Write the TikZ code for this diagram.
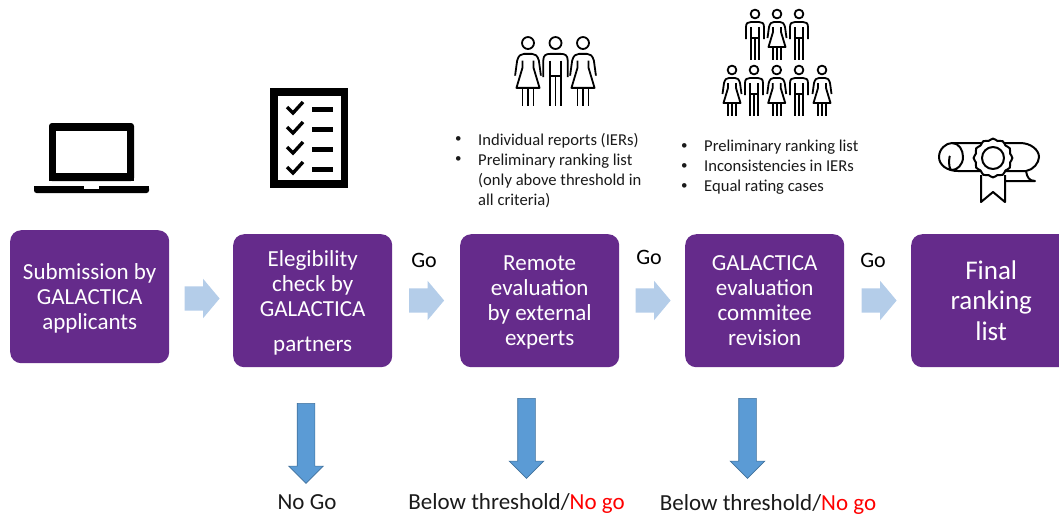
\documentclass[tikz,border=0pt]{standalone}
\usepackage{fontspec}
\setmainfont{Carlito}
\usetikzlibrary{shapes.arrows}
\definecolor{boxpurple}{HTML}{652B8B}
\definecolor{lightarrow}{HTML}{B4CDE9}
\definecolor{downfill}{HTML}{5B9BD5}
\definecolor{downline}{HTML}{41719C}
\definecolor{txt}{HTML}{1A1A1A}
\newcommand{\topstrut}[1]{\rule{0pt}{#1pt}}
\tikzset{
  stagebox/.style={draw=none,fill=boxpurple,rounded corners=11pt,text=white,align=center,
    minimum width=159pt,minimum height=133pt,inner sep=0pt,anchor=north west,
    font=\fontsize{23}{25}\selectfont},
  rightblock/.style={single arrow,fill=lightarrow,draw=none,inner xsep=0pt,inner ysep=12pt,
    minimum height=35pt,single arrow head extend=7.5pt,single arrow head indent=0pt,
    single arrow tip angle=100},
  downblock/.style={single arrow,fill=downfill,draw=downline,line width=0.6pt,inner sep=8.5pt,shape border rotate=270,
    minimum height=80pt,single arrow head extend=8.5pt,single arrow head indent=0pt,
    single arrow tip angle=90},
  golabel/.style={text=black,font=\fontsize{22}{24}\selectfont,inner sep=0pt},
  nogolabel/.style={text=txt,font=\fontsize{23}{25}\selectfont,inner sep=0pt},
  listtext/.style={text=txt,align=left,anchor=north west,inner sep=0pt,font=\fontsize{16.6}{20}\selectfont},
  bullettext/.style={text=txt,align=left,anchor=north west,inner sep=0pt,font=\fontsize{13}{20}\selectfont},
  icon/.style={line width=1.8pt,draw=black,line join=round,line cap=butt},
  thickicon/.style={line width=2pt,draw=black,line join=round,line cap=butt},
  pics/man/.style={code={
    \draw[icon] (0,0) circle (4.4);
    \draw[icon] (-9,25) -- (-9,13) .. controls (-9,9) and (-7,8) .. (-4,8) -- (4,8) .. controls (7,8) and (9,9) .. (9,13) -- (9,25);
    \draw[icon] (-4,13) -- (-4,46) (4,13) -- (4,46);
    \draw[icon] (-4,24) -- (4,24) (0,24) -- (0,46);
  }},
  pics/woman/.style={code={
    \draw[icon] (0,0) circle (4.4);
    \draw[icon] (-9.5,24) -- (-8,13) .. controls (-7,9) and (-5,8) .. (-3,8) -- (3,8) .. controls (5,8) and (7,9) .. (8,13) -- (9.5,24);
    \draw[icon] (-4,13) -- (-4,18) -- (-8.5,33) -- (8.5,33) -- (4,18) -- (4,13);
    \draw[icon] (-4,33) -- (-4,46) (4,33) -- (4,46) (0,33) -- (0,46);
  }},
}
\begin{document}
\begin{tikzpicture}[x=1pt,y=-1pt]
\useasboundingbox (0,0) rectangle (1059,515);
% stage boxes
\node[stagebox] (s1) at (10,230) {\topstrut{20}Submission by\\GALACTICA\\applicants};
\node[stagebox] (s2) at (233,234) {\topstrut{20}Elegibility\\check by\\GALACTICA\\[10pt]partners};
\node[stagebox] (s3) at (460,234) {\topstrut{18}Remote\\evaluation\\by external\\experts};
\node[stagebox] (s4) at (685,234) {GALACTICA\\evaluation\\commitee\\revision};
\node[stagebox,font=\fontsize{27}{30.5}\selectfont,minimum width=160pt] (s5) at (911,234) {Final\\ranking\\list};
% block arrows
\node[rightblock] (a1) at (197,298.5) {};
\node[rightblock] (a2) at (421.5,300.5) {};
\node[rightblock] (a3) at (648,300.5) {};
\node[rightblock] (a4) at (874,300.5) {};
\node[downblock] (d1) at (306,439) {};
\node[downblock] (d2) at (526.5,434) {};
\node[downblock] (d3) at (747.5,434) {};
% labels
\node[golabel] (g1) at (424,260) {Go};
\node[golabel] (g2) at (649,257) {Go};
\node[golabel] (g3) at (873,260) {Go};
\node[nogolabel] (n1) at (307,502) {No Go};
\node[nogolabel] (n2) at (516.5,503) {Below threshold/\textcolor{red}{No go}};
\node[nogolabel] (n3) at (768,504) {Below threshold/\textcolor{red}{No go}};
% lists
\node[listtext] (l1) at (478,133) {Individual reports (IERs)\\Preliminary ranking list\\(only above threshold in\\all criteria)};
\node[bullettext] (b1) at (455,136) {•\\•};
\node[listtext] (l2) at (704,140) {Preliminary ranking list\\Inconsistencies in IERs\\Equal rating cases};
\node[bullettext] (b2) at (681,143) {•\\•\\•};
% laptop
\fill[black,rounded corners=3pt] (49,181) -- (49,123) -- (134,123) -- (134,181) -- cycle;
\fill[black] (49,175) rectangle (134,181);
\fill[white] (56,131) rectangle (127,173);
\fill[black,rounded corners=2.5pt] (34,186) -- (149,186) -- (149,193) -- (34,193) -- cycle;
\fill[black] (34,186) rectangle (149,189);
\fill[white] (84,186) rectangle (99,188.5);
% checklist
\fill[black] (270,88) rectangle (348,188);
\fill[white] (278,96) rectangle (341,180);
\foreach \yy in {108,128,148,168}{
  \draw[black,line width=3.4pt] (287,\yy-1) -- (293,\yy+5) -- (303,\yy-6);
  \fill[black] (312,\yy-1.5) rectangle (333,\yy+3.5);
}
% three experts
\pic[scale=1.36] at (528,43) {woman};
\pic[scale=1.36] at (555.5,43) {man};
\pic[scale=1.36] at (583,43) {woman};
% committee
\pic at (755,14) {man};
\pic at (777,14) {woman};
\pic at (799,14) {man};
\pic at (732,70) {woman};
\pic at (754,70) {man};
\pic at (776.7,70) {woman};
\pic at (799,70) {man};
\pic at (822,70) {woman};
% diploma
\draw[thickicon] (952,143) -- (1020,143) .. controls (1031,143) and (1039,150) .. (1039,157) .. controls (1039,163) and (1033,170) .. (1026,171) -- (1004,171);
\draw[thickicon] (982,171) -- (958,171) .. controls (947,171) and (939,165) .. (939,157) .. controls (939,149) and (946,143) .. (952,143) .. controls (959,143) and (963,150) .. (963,157) .. controls (963,165) and (957,170) .. (952,170) .. controls (948,170) and (949,156) .. (950,156);
\draw[thickicon] (1026,171) .. controls (1027,177) and (1029,181) .. (1035,181) -- (1005,181);
\draw[thickicon] (981,175) -- (981,202) -- (993,192) -- (1005,202) -- (1005,175);
\draw[thickicon,fill=white] plot[smooth cycle,samples=48,domain=0:352.5] ({993+(18.5+0.9*cos(12*\x))*cos(\x)},{158+(18.5+0.9*cos(12*\x))*sin(\x)});
\draw[thickicon] (993,158) circle (11);
\end{tikzpicture}
\end{document}
